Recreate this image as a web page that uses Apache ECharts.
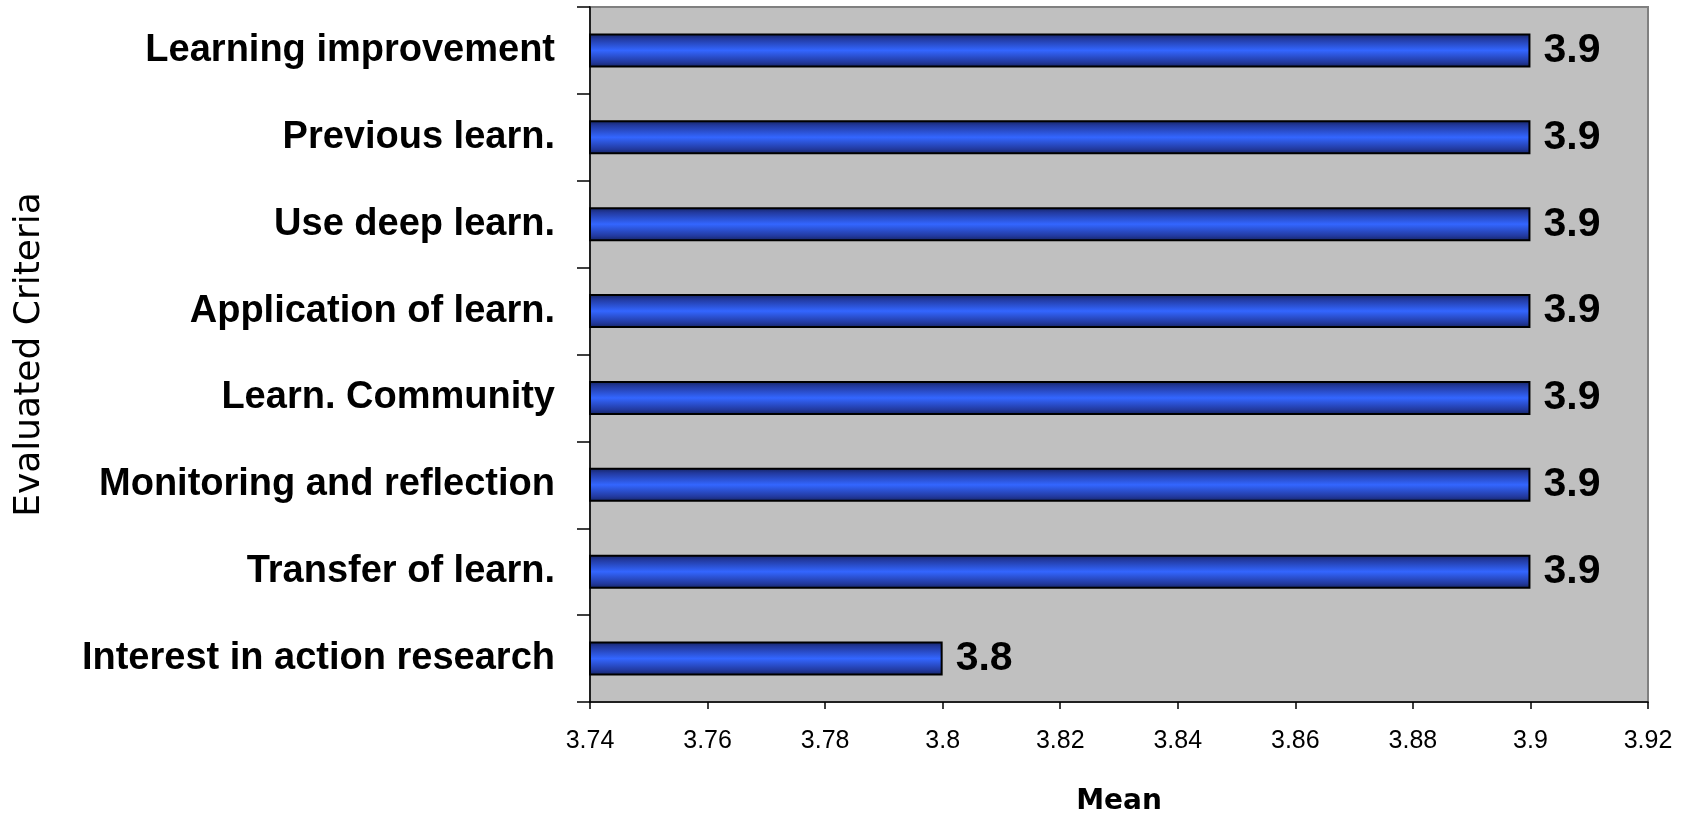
<!DOCTYPE html>
<html>
<head>
<meta charset="utf-8">
<script src="https://cdn.jsdelivr.net/npm/echarts@6/dist/echarts.min.js"></script>
<style>
html,body{margin:0;padding:0;background:#fff;}
#chart{width:1685px;height:815px;}
</style>
</head>
<body>
<div id="chart"></div>
<script>
// Data (top to bottom)
var categories = [
  "Learning improvement",
  "Previous learn.",
  "Use deep learn.",
  "Application of learn.",
  "Learn. Community",
  "Monitoring and reflection",
  "Transfer of learn.",
  "Interest in action research"
];
var meanValues = [3.9, 3.9, 3.9, 3.9, 3.9, 3.9, 3.9, 3.8];
var xMin = 3.74, xMax = 3.92, xStep = 0.02;

var chart = echarts.init(document.getElementById('chart'), null, {renderer: 'canvas'});
var option = {
  animation: false,
  backgroundColor: '#ffffff',
  grid: {
    left: 590, right: 37, top: 7, bottom: 113,
    containLabel: false, outerBoundsMode: 'none',
    show: true, backgroundColor: '#c0c0c0', borderColor: '#808080', borderWidth: 2
  },
  xAxis: {
    type: 'value', min: xMin, max: xMax, interval: xStep,
    name: 'Mean', nameLocation: 'middle', nameGap: 86,
    nameTextStyle: {fontFamily: 'DejaVu Sans', fontWeight: 'bold', fontSize: 28, color: '#000'},
    axisLine: {show: true, lineStyle: {color: '#000', width: 1.5}},
    axisTick: {show: true, length: 7, lineStyle: {color: '#000', width: 1.5}},
    axisLabel: {margin: 27, fontFamily: 'Liberation Sans', fontSize: 25, color: '#000',
      formatter: function (v) { return String(parseFloat(v.toFixed(2))); }},
    splitLine: {show: false}
  },
  yAxis: {
    type: 'category', data: categories, inverse: true,
    name: 'Evaluated Criteria', nameLocation: 'middle', nameGap: 542, nameRotate: 90,
    nameTextStyle: {fontFamily: 'DejaVu Sans', fontSize: 36, color: '#000'},
    axisLine: {show: true, lineStyle: {color: '#000', width: 1.5}},
    axisTick: {show: true, length: 13, lineStyle: {color: '#000', width: 1.5}},
    axisLabel: {margin: 35, fontFamily: 'Liberation Sans', fontWeight: 'bold', fontSize: 38, color: '#000'},
    splitLine: {show: false}
  },
  series: [{
    type: 'bar',
    data: meanValues,
    barWidth: 34,
    itemStyle: {
      borderColor: '#000', borderWidth: 2,
      color: new echarts.graphic.LinearGradient(0, 0, 0, 1, [
        {offset: 0, color: '#14235e'},
        {offset: 0.15, color: '#22399e'},
        {offset: 0.5, color: '#3366ff'},
        {offset: 0.85, color: '#22399e'},
        {offset: 1, color: '#14235e'}
      ])
    },
    label: {
      show: true, position: 'right', distance: 13,
      fontFamily: 'Liberation Sans', fontWeight: 'bold', fontSize: 41, color: '#000',
      formatter: function (p) { return p.value.toFixed(1); }
    }
  }]
};
chart.setOption(option);
</script>
</body>
</html>
